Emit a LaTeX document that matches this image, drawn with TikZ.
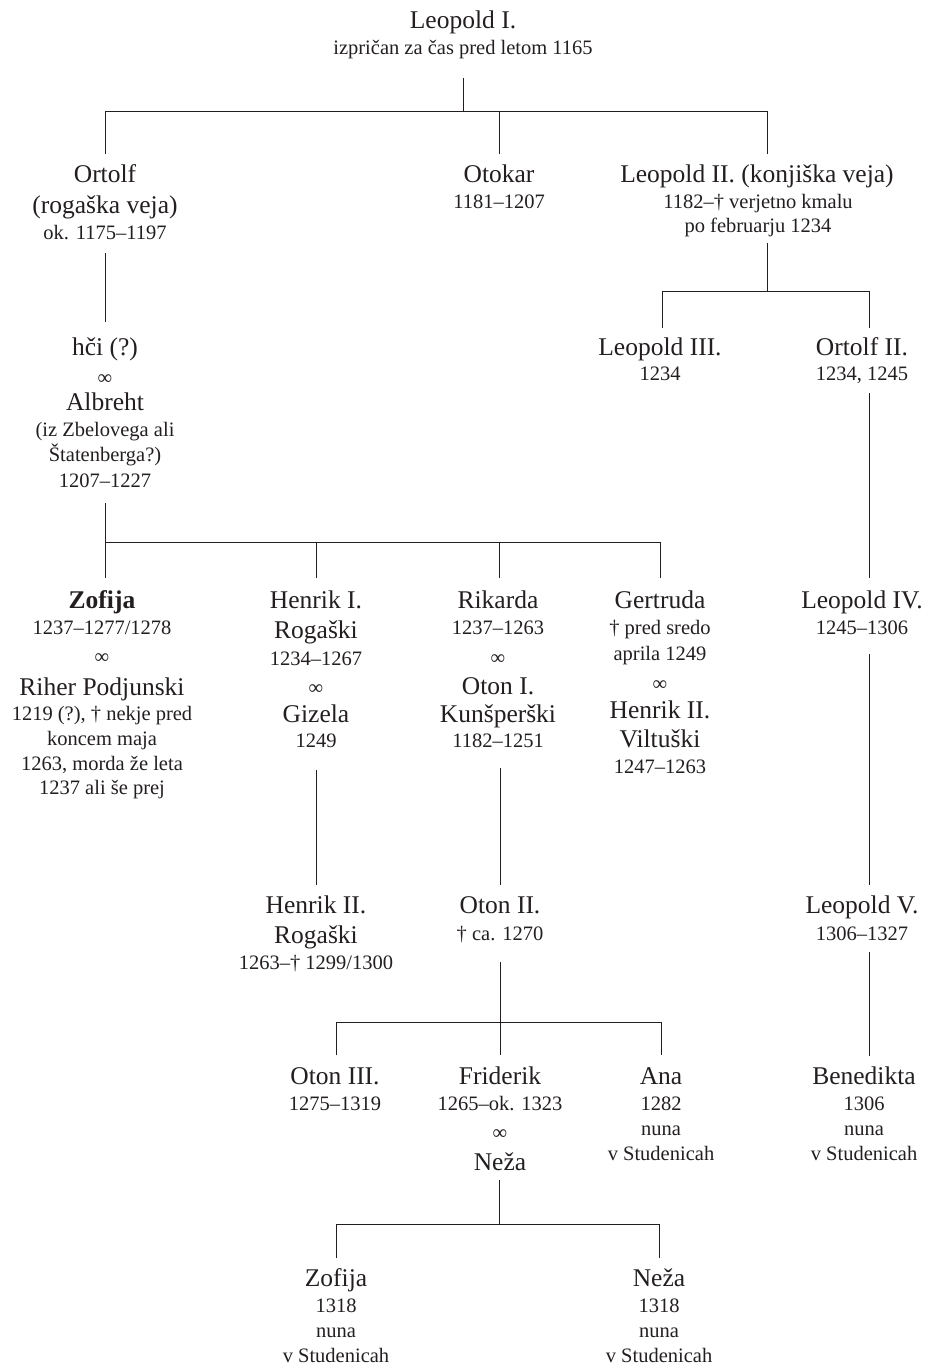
\documentclass[tikz,border=0pt]{standalone}
\usepackage{fontspec}
\setmainfont{Liberation Serif}
\definecolor{ink}{HTML}{231F20}
\tikzset{
  nm/.style={anchor=base, inner sep=0pt, text=ink, font=\fontsize{25.5}{29}\selectfont},
  sm/.style={anchor=base, inner sep=0pt, text=ink, font=\fontsize{20.5}{24}\selectfont},
  mar/.style={anchor=center, inner sep=0pt, text=ink, font=\fontsize{20.5}{24}\selectfont},
  conn/.style={draw=ink, line width=0.9pt}
}
\begin{document}
\begin{tikzpicture}[x=1pt,y=-1pt]
\useasboundingbox[fill=white] (0,0) rectangle (926,1364);
% ---- generation 1
\node[nm] (leo1) at (463,29) {Leopold I.};
\node[sm] (leo1a) at (463,55) {izpričan za čas pred letom 1165};
\coordinate (leo1d) at (463,78);
\coordinate (bus1) at (463,111);
% ---- generation 2
\coordinate (ortU) at (105,154);
\node[nm] (ort) at (105,183) {Ortolf};
\node[nm] (orta) at (105,214) {(rogaška veja)};
\node[sm] (ortb) at (105,240) {ok. 1175–1197};
\coordinate (ortD) at (105,253);

\coordinate (otoU) at (499,154);
\node[nm] (oto) at (499,183) {Otokar};
\node[sm] (otoa) at (499,209) {1181–1207};

\coordinate (leo2U) at (767,154);
\node[nm] (leo2) at (757,183) {Leopold II. (konjiška veja)};
\node[sm] (leo2a) at (758,209) {1182–† verjetno kmalu};
\node[sm] (leo2b) at (758,233) {po februarju 1234};
\coordinate (leo2D) at (767,243);
\coordinate (bus2) at (767,291);

% ---- generation 3
\coordinate (hciU) at (105,322);
\node[nm] (hci) at (105,355) {hči (?)};
\node[mar] (hcim) at (105,380) {∞};
\node[nm] (alb) at (105,410) {Albreht};
\node[sm] (alba) at (105,436) {(iz Zbelovega ali};
\node[sm] (albb) at (105,461) {Štatenberga?)};
\node[sm] (albc) at (105,487) {1207–1227};
\coordinate (albD) at (105,503);
\coordinate (bus3) at (105,542);

\coordinate (leo3U) at (662,328);
\node[nm] (leo3) at (660,355) {Leopold III.};
\node[sm] (leo3a) at (660,380) {1234};

\coordinate (ort2U) at (869,328);
\node[nm] (ort2) at (862,355) {Ortolf II.};
\node[sm] (ort2a) at (862,380) {1234, 1245};
\coordinate (ort2D) at (869,393);

% ---- generation 4
\coordinate (zofU) at (105,578);
\node[nm,font=\fontsize{25.5}{29}\selectfont\bfseries] (zof) at (102,608) {Zofija};
\node[sm] (zofa) at (102,634) {1237–1277/1278};
\node[mar] (zofm) at (102,659) {∞};
\node[nm] (rih) at (102,695) {Riher Podjunski};
\node[sm] (riha) at (102,720) {1219 (?), † nekje pred};
\node[sm] (rihb) at (102,745) {koncem maja};
\node[sm] (rihc) at (102,770) {1263, morda že leta};
\node[sm] (rihd) at (102,794) {1237 ali še prej};

\coordinate (hen1U) at (316,578);
\node[nm] (hen1) at (316,608) {Henrik I.};
\node[nm] (hen1a) at (316,638) {Rogaški};
\node[sm] (hen1b) at (316,665) {1234–1267};
\node[mar] (hen1m) at (316,690) {∞};
\node[nm] (giz) at (316,722) {Gizela};
\node[sm] (giza) at (316,747) {1249};
\coordinate (gizD) at (316,770);

\coordinate (rikU) at (499,578);
\node[nm] (rik) at (498,608) {Rikarda};
\node[sm] (rika) at (498,634) {1237–1263};
\node[mar] (rikm) at (498,660) {∞};
\node[nm] (oto1) at (498,694) {Oton I.};
\node[nm] (oto1a) at (498,722) {Kunšperški};
\node[sm] (oto1b) at (498,747) {1182–1251};
\coordinate (oto1D) at (500,768);

\coordinate (gerU) at (660,578);
\node[nm] (ger) at (660,608) {Gertruda};
\node[sm] (gera) at (660,634) {† pred sredo};
\node[sm] (gerb) at (660,660) {aprila 1249};
\node[mar] (germ) at (660,686) {∞};
\node[nm] (hvil) at (660,718) {Henrik II.};
\node[nm] (hvila) at (660,747) {Viltuški};
\node[sm] (hvilb) at (660,773) {1247–1263};

\coordinate (leo4U) at (869,578);
\node[nm] (leo4) at (862,608) {Leopold IV.};
\node[sm] (leo4a) at (862,634) {1245–1306};
\coordinate (leo4D) at (869,654);

% ---- generation 5
\coordinate (hen2U) at (316,885);
\node[nm] (hen2) at (316,913) {Henrik II.};
\node[nm] (hen2a) at (316,943) {Rogaški};
\node[sm] (hen2b) at (316,969) {1263–† 1299/1300};

\coordinate (oto2U) at (500,885);
\node[nm] (oto2) at (500,913) {Oton II.};
\node[sm] (oto2a) at (500,940) {† ca. 1270};
\coordinate (oto2D) at (500,962);
\coordinate (bus4) at (500,1022);

\coordinate (leo5U) at (869,885);
\node[nm] (leo5) at (862,913) {Leopold V.};
\node[sm] (leo5a) at (862,940) {1306–1327};
\coordinate (leo5D) at (869,952);

% ---- generation 6
\coordinate (oto3U) at (336,1055);
\node[nm] (oto3) at (335,1084) {Oton III.};
\node[sm] (oto3a) at (335,1110) {1275–1319};

\coordinate (friU) at (500,1055);
\node[nm] (fri) at (500,1084) {Friderik};
\node[sm] (fria) at (500,1110) {1265–ok. 1323};
\node[mar] (frim) at (500,1135) {∞};
\node[nm] (nez) at (500,1170) {Neža};
\coordinate (nezD) at (499,1180);
\coordinate (bus5) at (499,1224);

\coordinate (anaU) at (661,1055);
\node[nm] (ana) at (661,1084) {Ana};
\node[sm] (anaa) at (661,1110) {1282};
\node[sm] (anab) at (661,1135) {nuna};
\node[sm] (anac) at (661,1160) {v Studenicah};

\coordinate (benU) at (869,1056);
\node[nm] (ben) at (864,1084) {Benedikta};
\node[sm] (bena) at (864,1110) {1306};
\node[sm] (benb) at (864,1135) {nuna};
\node[sm] (benc) at (864,1160) {v Studenicah};

% ---- generation 7
\coordinate (zof2U) at (336,1258);
\node[nm] (zof2) at (336,1286) {Zofija};
\node[sm] (zof2a) at (336,1312) {1318};
\node[sm] (zof2b) at (336,1337) {nuna};
\node[sm] (zof2c) at (336,1362) {v Studenicah};

\coordinate (nez2U) at (659,1258);
\node[nm] (nez2) at (659,1286) {Neža};
\node[sm] (nez2a) at (659,1312) {1318};
\node[sm] (nez2b) at (659,1337) {nuna};
\node[sm] (nez2c) at (659,1362) {v Studenicah};

% ---- connectors
\draw[conn] (leo1d) -- (bus1);
\draw[conn] (ortU) -- (ortU |- bus1) -- (leo2U |- bus1) -- (leo2U);
\draw[conn] (otoU |- bus1) -- (otoU);

\draw[conn] (ortD) -- (hciU);

\draw[conn] (leo2D) -- (bus2);
\draw[conn] (leo3U) -- (leo3U |- bus2) -- (ort2U |- bus2) -- (ort2U);

\draw[conn] (ort2D) -- (leo4U);

\draw[conn] (albD) -- (bus3);
\draw[conn] (zofU) -- (zofU |- bus3) -- (gerU |- bus3) -- (gerU);
\draw[conn] (hen1U |- bus3) -- (hen1U);
\draw[conn] (rikU |- bus3) -- (rikU);

\draw[conn] (gizD) -- (hen2U);
\draw[conn] (oto1D) -- (oto2U);
\draw[conn] (leo4D) -- (leo5U);

\draw[conn] (oto2D) -- (friU);
\draw[conn] (oto3U) -- (oto3U |- bus4) -- (anaU |- bus4) -- (anaU);
\draw[conn] (leo5D) -- (benU);

\draw[conn] (nezD) -- (bus5);
\draw[conn] (zof2U) -- (zof2U |- bus5) -- (nez2U |- bus5) -- (nez2U);
\end{tikzpicture}
\end{document}
